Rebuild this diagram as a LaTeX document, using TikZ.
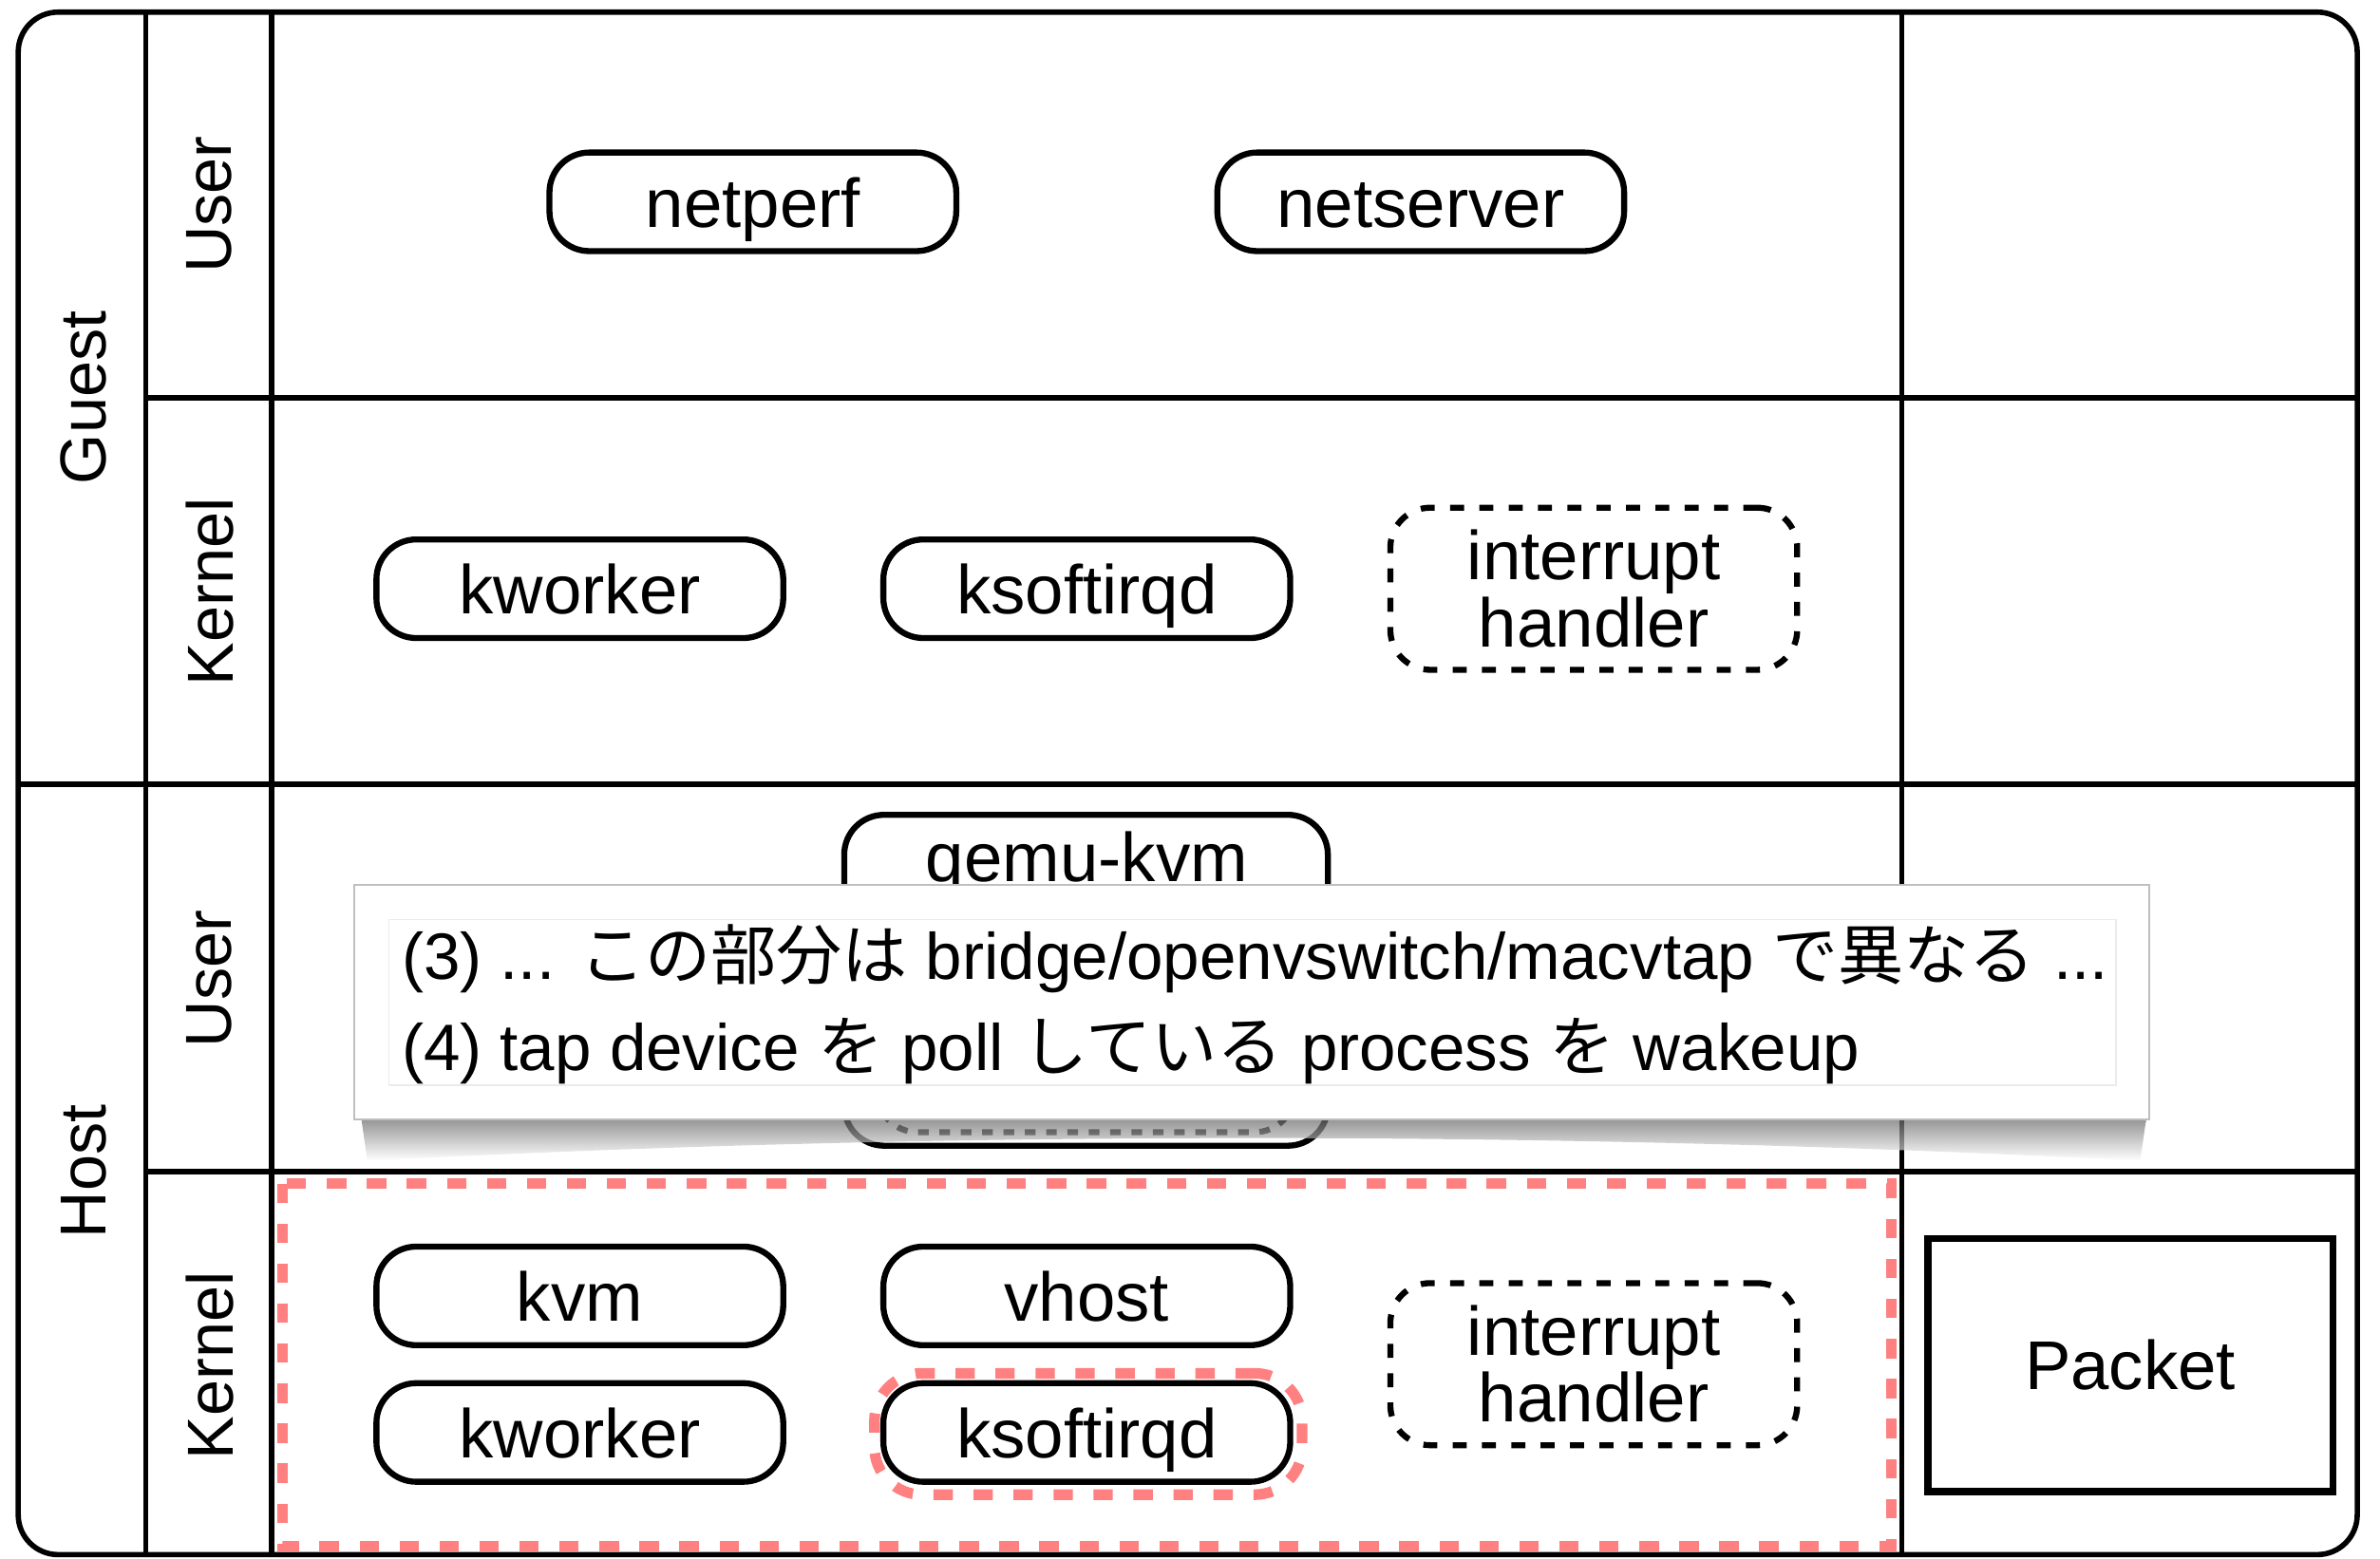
\documentclass[tikz,border=0pt]{standalone}
\usepackage{fontspec}
\setmainfont{Liberation Sans}
\newfontfamily\cjk{Noto Sans CJK JP}
\usepackage{tikz}
\usetikzlibrary{positioning}
\definecolor{hitred}{RGB}{255,128,128}
\tikzset{
  grid/.style={line width=1.6pt, black},
  box/.style={draw, line width=1.8pt, rounded corners=.42cm, fill=white, minimum width=4.29cm, minimum height=1.04cm,
              font=\fontsize{20.7}{20}\selectfont},
  proc/.style={box, text height=.53cm, text depth=0pt},
  irq/.style={box, align=center, dash pattern=on 4.2pt off 4.6pt, minimum height=1.71cm},
  lane/.style={rotate=90, font=\fontsize{19.5}{20}\selectfont},
  hit/.style={draw=hitred, line width=3.2pt, dash pattern=on 5.8pt off 6.2pt},
  note/.style={draw=black!25, line width=.6pt, fill=white},
  pkt/.style={draw, line width=2.1pt, minimum width=4.27cm, minimum height=2.67cm, font=\fontsize{20.7}{20}\selectfont}
}
\newcommand{\jp}[1]{{\cjk #1}}

\begin{document}
\begin{tikzpicture}[x=0.016cm, y=-0.016cm]
\useasboundingbox (0,0) rectangle (1568,1027);
% frame and lanes
\draw[grid, rounded corners=.42cm] (12,8) rectangle (1553,1024.5);
\draw[grid] (96,8) -- (96,1024.5) (179,8) -- (179,1024.5) (1253,8) -- (1253,1024.5);
\draw[grid] (96,262) -- (1553,262) (12,517) -- (1553,517) (96,772) -- (1553,772);
\node[lane] (guest) at (55,262) {Guest};
\node[lane] (host) at (55,772) {Host};
\node[lane] (guser) at (138,135) {User};
\node[lane] (gkern) at (138,390) {Kernel};
\node[lane] (huser) at (138,645) {User};
\node[lane] (hkern) at (138,900) {Kernel};
% guest
\node[proc] (perf) at (496,133) {netperf};
\node[proc] (serv) at (936,133) {netserver};
\node[proc] (gkw) at (382,388) {kworker};
\node[proc] (gks) at (716,388) {ksoftirqd};
\node[irq] (girq) at (1050,388) {interrupt\\handler};
% host
\node[box, minimum width=5.1cm, minimum height=3.49cm] (qemu) at (715.5,646) {};
\node[font=\fontsize{20.7}{20}\selectfont] (qemutxt) at (716,569) {qemu-kvm};
\node[box, dash pattern=on 3.2pt off 3.2pt, minimum width=4.4cm, minimum height=.9cm] (tap) at (715.5,718) {};
\draw[hit] (186,780) rectangle (1246,1019);
\node[proc] (kvm) at (382,854) {kvm};
\node[proc] (vhost) at (716,854) {vhost};
\node[proc] (hkw) at (382,944) {kworker};
\node[draw=hitred, line width=3.2pt, dash pattern=on 5.8pt off 6.2pt, rounded corners=.5cm, minimum width=4.51cm, minimum height=1.28cm] (kshit) at (717,945) {};
\node[proc] (hks) at (716,944) {ksoftirqd};
\node[irq] (hirq) at (1050,899) {interrupt\\handler};
\node[pkt] (pkt) at (1403.5,899.5) {Packet};
% callout
\shade[top color=black!60, bottom color=white, opacity=.7] (238,737) -- (242,765) .. controls (620,745) and (1030,745) .. (1410,765) -- (1414,737) -- cycle;
\node[note, minimum width=18.93cm, minimum height=2.48cm] (memo) at (824.5,660.5) {};
\node[draw=black!8, line width=.5pt, minimum width=18.21cm, minimum height=1.744cm] (memoin) at (825,660.5) {};
\node[anchor=west, align=left, font=\fontsize{19.7}{27.3}\selectfont] (memotxt) at (257,662)
  {(3) ... \jp{この部分は} bridge/openvswitch/macvtap \jp{で異なる} ...\\(4) tap device \jp{を} poll \jp{している} process \jp{を} wakeup};
\end{tikzpicture}
\end{document}
